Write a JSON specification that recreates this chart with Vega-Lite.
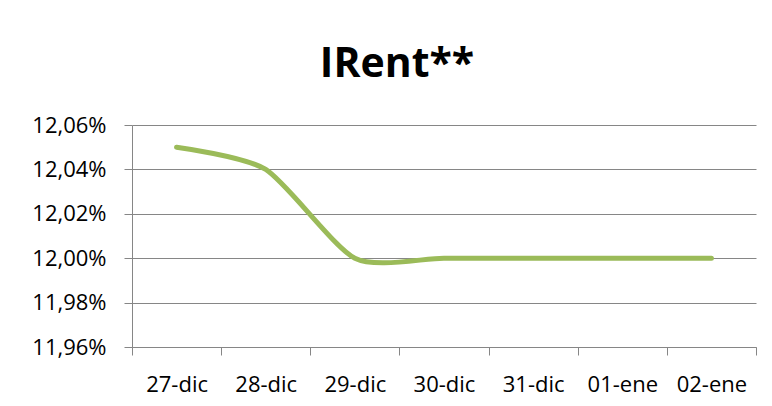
{
  "$schema": "https://vega.github.io/schema/vega-lite/v6.json",
  "autosize": "none",
  "width": 624,
  "height": 222,
  "padding": {"left": 132, "top": 125, "right": 16, "bottom": 59},
  "background": "white",
  "title": {
    "text": "IRent**",
    "font": "Open Sans",
    "fontSize": 41,
    "fontWeight": "bold",
    "color": "#000000",
    "anchor": "middle",
    "dx": -47,
    "baseline": "alphabetic",
    "offset": -4
  },
  "data": {
    "values": [
      {"fecha": "27-dic", "irent": 12.05},
      {"fecha": "28-dic", "irent": 12.04},
      {"fecha": "29-dic", "irent": 12.0},
      {"fecha": "30-dic", "irent": 12.0},
      {"fecha": "31-dic", "irent": 12.0},
      {"fecha": "01-ene", "irent": 12.0},
      {"fecha": "02-ene", "irent": 12.0}
    ]
  },
  "mark": {
    "type": "line",
    "color": "#9BBB59",
    "strokeWidth": 5,
    "strokeCap": "round",
    "interpolate": "cardinal",
    "tension": 0.3
  },
  "encoding": {
    "x": {
      "field": "fecha",
      "type": "nominal",
      "sort": null,
      "scale": {"type": "band", "paddingInner": 0, "paddingOuter": 0},
      "axis": {
        "title": null,
        "labelAngle": 0,
        "tickBand": "extent",
        "tickSize": 8,
        "labelPadding": 19,
        "grid": false,
        "domainColor": "#868686",
        "tickColor": "#868686",
        "labelFont": "Open Sans",
        "labelFontSize": 22,
        "labelColor": "#000000"
      }
    },
    "y": {
      "field": "irent",
      "type": "quantitative",
      "scale": {"domain": [11.96, 12.06], "nice": false, "zero": false},
      "axis": {
        "title": null,
        "values": [11.96, 11.98, 12.0, 12.02, 12.04, 12.06],
        "labelExpr": "replace(format(datum.value, '.2f'), '.', ',') + '%'",
        "tickSize": 8,
        "labelPadding": 18,
        "grid": true,
        "gridColor": "#868686",
        "gridOpacity": 1,
        "domainColor": "#868686",
        "tickColor": "#868686",
        "labelFont": "Open Sans",
        "labelFontSize": 22,
        "labelColor": "#000000"
      }
    }
  },
  "config": {
    "view": {"stroke": null}
  }
}
